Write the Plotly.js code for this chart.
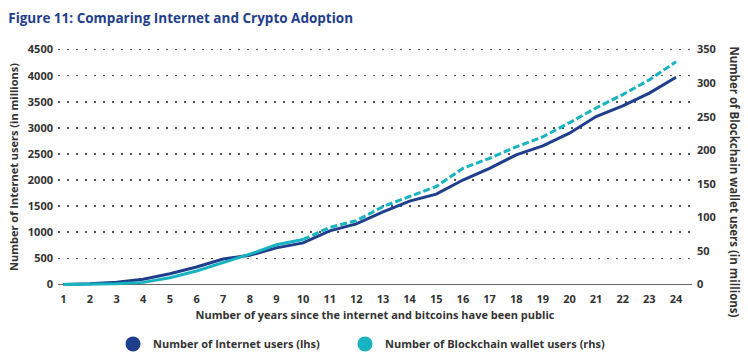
<!DOCTYPE html>
<html>
<head>
<meta charset="utf-8">
<script src="https://cdn.plot.ly/plotly-3.0.1.min.js"></script>
<style>html,body{margin:0;padding:0;background:#fff;}#chart{width:748px;height:359px;}</style>
</head>
<body>
<div id="chart"></div>
<script>
const years = [1,2,3,4,5,6,7,8,9,10,11,12,13,14,15,16,17,18,19,20,21,22,23,24];
const internetUsers = [0,10,40,100,205,333,487,558,700,795,1025,1160,1390,1596,1731,2000,2225,2481,2654,2898,3218,3423,3667,3970];
const walletUsers = [0,0,1,3,10,20,32,45,59,67,85,95,116,131,146,173,188,205,220,241,263,283,305,332];
const solidUntilYear = 10;
const seriesNames = ["Number of Internet users (lhs)", "Number of Blockchain wallet users (rhs)"];
const title = "Figure 11: Comparing Internet and Crypto Adoption";
const xTitle = "Number of years since the internet and bitcoins have been public";
const yTitle = "Number of Internet users (in millions)";
const y2Title = "Number of Blockchain wallet users (in millions)";
const leftTicks = [0,500,1000,1500,2000,2500,3000,3500,4000,4500];
const rightTicks = [0,50,100,150,200,250,300,350];

const navy = "#1f3e8c";
const teal = "#17b3c0";
const FONT = "Open Sans, sans-serif";
const cut = years.indexOf(solidUntilYear);

const traces = [
  {x: years, y: internetUsers, type: "scatter", mode: "lines", line: {color: navy, width: 3}, yaxis: "y", showlegend: false},
  {x: years.slice(0, cut + 1), y: walletUsers.slice(0, cut + 1), type: "scatter", mode: "lines", line: {color: teal, width: 3}, yaxis: "y2", showlegend: false},
  {x: years.slice(cut), y: walletUsers.slice(cut), type: "scatter", mode: "lines", line: {color: teal, width: 3, dash: "7px,3px"}, yaxis: "y2", showlegend: false},
  {x: [null], y: [null], type: "scatter", mode: "markers", marker: {color: navy, size: 15}, name: seriesNames[0], legend: "legend"},
  {x: [null], y: [null], type: "scatter", mode: "markers", marker: {color: teal, size: 15}, name: seriesNames[1], legend: "legend2"}
];

const yLo = -50, yHi = 4550, ratio = 350 / 4500;
const legendFont = {family: FONT, size: 11, color: "#333", weight: "bold"};

const layout = {
  width: 748, height: 359,
  margin: {l: 58, r: 56, t: 47.4, b: 72.4, autoexpand: false},
  paper_bgcolor: "#fff", plot_bgcolor: "#fff",
  font: {family: FONT, size: 11, color: "#333", weight: "bold"},
  title: {text: title, x: 0.011, xanchor: "left", y: 0.95, yanchor: "middle", font: {family: FONT, size: 13.5, color: "#1f3e8c", weight: "bold"}},
  xaxis: {
    range: [0.8, 24.6], tickvals: years, showgrid: false, zeroline: false, showline: false, ticks: "",
    tickfont: {family: FONT, size: 11, color: "#333", weight: "bold"}, ticklabelstandoff: 4,
    title: {text: xTitle, standoff: 6, font: {family: FONT, size: 11, color: "#333", weight: "bold"}}
  },
  yaxis: {
    range: [yLo, yHi], tickvals: leftTicks, showgrid: true, gridcolor: "#555", gridwidth: 1.5, griddash: "1.5px,7.5px",
    zeroline: true, zerolinecolor: "#666", zerolinewidth: 1.5, showline: false, ticks: "",
    tickfont: {family: FONT, size: 11, color: "#333", weight: "bold"}, ticklabelstandoff: 4,
    title: {text: yTitle, standoff: 6, font: {family: FONT, size: 11, color: "#333", weight: "bold"}}
  },
  yaxis2: {
    range: [yLo * ratio, yHi * ratio], tickvals: rightTicks, overlaying: "y", side: "right",
    showgrid: false, zeroline: false, showline: false, ticks: "",
    tickfont: {family: FONT, size: 11, color: "#333", weight: "bold"}, ticklabelstandoff: 4
  },
  legend: {orientation: "h", x: 113 / 748, xanchor: "left", xref: "container", y: 0.042, yanchor: "middle", yref: "container",
    font: legendFont, itemwidth: 30},
  legend2: {orientation: "h", x: 345 / 748, xanchor: "left", xref: "container", y: 0.042, yanchor: "middle", yref: "container",
    font: legendFont, itemwidth: 30},
  annotations: [{
    text: y2Title, xref: "paper", yref: "paper", x: 1, xshift: 43, y: 0.44, textangle: 90, showarrow: false,
    xanchor: "center", yanchor: "middle", font: {family: FONT, size: 11.5, color: "#333", weight: "bold"}
  }]
};

Plotly.newPlot("chart", traces, layout, {displayModeBar: false, staticPlot: true});
</script>
</body>
</html>
